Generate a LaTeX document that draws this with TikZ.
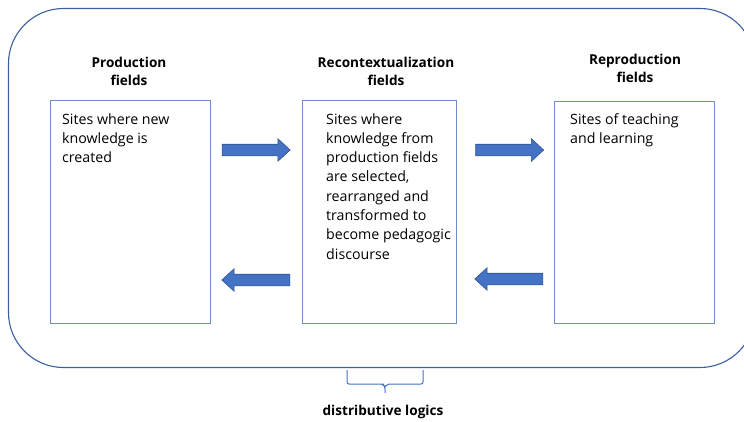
\documentclass[tikz,border=0pt]{standalone}
\usepackage{fontspec}
\setmainfont{Open Sans}
\usetikzlibrary{shapes.arrows}
\definecolor{frameblue}{HTML}{3B5FA0}
\definecolor{boxblue}{HTML}{6F8CC4}
\definecolor{arrowfill}{HTML}{4472C4}
\definecolor{arrowline}{HTML}{2F528F}
\newcommand{\bodylines}[1]{\begin{tabular}[t]{@{}l@{}}#1\end{tabular}}
\newcommand{\titlelines}[1]{\begin{tabular}[t]{@{}c@{}}#1\end{tabular}}
\begin{document}
\begin{tikzpicture}[x=1pt,y=-1pt,
  field/.style={draw=boxblue,line width=1pt,rectangle,inner sep=0pt,anchor=north west},
  bodytext/.style={anchor=base west,inner sep=0pt,font=\fontsize{14.2}{19.3}\selectfont},
  titletext/.style={anchor=base,inner sep=0pt,font=\fontsize{13.6}{18}\selectfont\bfseries},
  blockarrow/.style={single arrow,draw=arrowline,fill=arrowfill,line width=0.6pt,
    minimum width=22pt,minimum height=68pt,single arrow head extend=5.5pt,
    single arrow tip angle=85,inner xsep=0pt,inner ysep=5.5pt}
]
\useasboundingbox (0,0) rectangle (744,421);
% outer frame
\draw[frameblue,line width=1.1pt,rounded corners=55pt] (8.5,8.5) rectangle (755,367.5);
% boxes
\node[field,minimum width=160pt,minimum height=223pt] (prod) at (50,100) {};
\node[field,minimum width=154pt,minimum height=223pt] (recon) at (302,100) {};
\node[field,minimum width=160pt,minimum height=222pt] (repro) at (554,101) {};
% titles
\node[titletext] (tprod) at (129,67) {\titlelines{Production\\fields}};
\node[titletext] (trecon) at (386,67) {\titlelines{Recontextualization\\fields}};
\node[titletext] (trepro) at (635,64) {\titlelines{Reproduction\\fields}};
% body texts
\node[bodytext] (bprod) at (62,124) {\bodylines{Sites where new\\knowledge is\\created}};
\node[bodytext] (brecon) at (326,124) {\bodylines{Sites where\\knowledge from\\production fields\\are selected,\\rearranged and\\transformed to\\become pedagogic\\discourse}};
\node[bodytext] (brepro) at (570,124) {\bodylines{Sites of teaching\\and learning}};
% arrows
\node[blockarrow] (a1) at (253,150) {};
\node[blockarrow] (a2) at (506.5,150) {};
\node[blockarrow,shape border rotate=180] (a3) at (259,280) {};
\node[blockarrow,shape border rotate=180] (a4) at (512,279) {};
% brace
\coordinate (bl) at (347,370);
\coordinate (br) at (423,370);
\coordinate (bt) at (385,393);
\draw[arrowfill,line width=1pt,rounded corners=2pt] (bl) -- (347,384) -- (383,384) -- (385,387) -- (bt);
\draw[arrowfill,line width=1pt,rounded corners=2pt] (br) -- (423,384) -- (387,384) -- (385,387);
\node[titletext] (dist) at (383,415) {distributive logics};
\end{tikzpicture}
\end{document}
